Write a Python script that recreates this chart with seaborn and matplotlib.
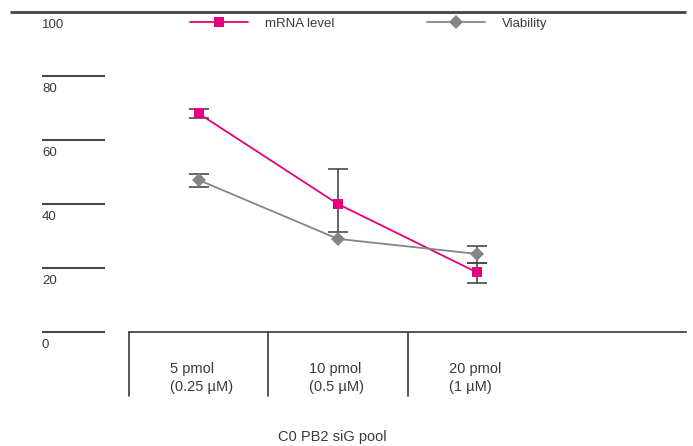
import numpy as np
import pandas as pd
import matplotlib
matplotlib.use("Agg")
import matplotlib.pyplot as plt
import seaborn as sns

# data
doses = ["5 pmol\n(0.25 µM)", "10 pmol\n(0.5 µM)", "20 pmol\n(1 µM)"]
mrna = [68.3, 40.0, 18.6]
mrna_err_low = [1.4, 8.7, 3.3]
mrna_err_high = [1.4, 10.8, 3.1]
viability = [47.5, 29.1, 24.4]
viability_err_low = [2.3, np.nan, 2.7]
viability_err_high = [2.0, np.nan, 2.6]
y_ticks = [0, 20, 40, 60, 80, 100]
x_title = "C0 PB2 siG pool"

MAGENTA = "#E6007E"
GREY = "#858585"
DARK = "#3a3a3a"

sns.set_theme(style="white")
plt.rcParams["font.family"] = ["Liberation Sans", "DejaVu Sans"]

W, H = 693, 446
fig = plt.figure(figsize=(W / 100, H / 100), dpi=100)
# plot area: x 129..686 px, y(0)=332 px, y(100)=12 px
ax = fig.add_axes([129 / W, (H - 332) / H, 557 / W, 320 / H])

pos = np.arange(len(doses))
df = pd.DataFrame({
    "pos": np.concatenate([pos, pos]),
    "value": mrna + viability,
    "series": ["mRNA level"] * 3 + ["Viability"] * 3,
})

# error bars first so markers sit on top
ax.errorbar(pos, mrna, yerr=[mrna_err_low, mrna_err_high], fmt="none",
            ecolor="#4a4a4a", elinewidth=1.2, capsize=7.5, capthick=1.2, zorder=2)
vmask = ~np.isnan(viability_err_low)
ax.errorbar(pos[vmask], np.array(viability)[vmask],
            yerr=[np.array(viability_err_low)[vmask], np.array(viability_err_high)[vmask]],
            fmt="none", ecolor="#4a4a4a", elinewidth=1.2, capsize=7.5,
            capthick=1.2, zorder=2)

sns.lineplot(data=df, x="pos", y="value", hue="series", style="series",
             palette={"mRNA level": MAGENTA, "Viability": GREY},
             markers={"mRNA level": "s", "Viability": "D"},
             dashes=False, markersize=7, markeredgewidth=0, linewidth=1.3,
             ax=ax, zorder=3)

ax.set_xlim(-0.5, 3.5)
ax.set_ylim(0, 100)
ax.set_xticks([])
ax.set_yticks([])
ax.set_xlabel("")
ax.set_ylabel("")
for s in ["top", "right", "left"]:
    ax.spines[s].set_visible(False)
ax.spines["bottom"].set_color(DARK)
ax.spines["bottom"].set_linewidth(1.2)

# y "ticks" as short rules with labels under them
ytr = ax.get_yaxis_transform()
x0 = (42 - 129) / 557
x1 = (105 - 129) / 557
for t in y_ticks:
    if t == 100:
        ax.plot([(10 - 129) / 557, 1.0], [t, t], transform=ytr, color="#444444",
                lw=2.0, clip_on=False, solid_capstyle="butt")
    else:
        ax.plot([x0, x1], [t, t], transform=ytr, color="#222222",
                lw=1.2, clip_on=False, solid_capstyle="butt")
    ax.text(x0, t - 2.3, str(t), transform=ytr, ha="left", va="top",
            fontsize=9.5, color=DARK)

# category separators and labels below the axis
for b in [-0.5, 0.5, 1.5]:
    ax.plot([b, b], [0, -20], color=DARK, lw=1.2, clip_on=False)
for p, lab in zip(pos, doses):
    ax.text(p - 0.205, -9.3, lab, ha="left", va="top", fontsize=10.5,
            color=DARK, linespacing=1.38, clip_on=False)

fig.text(332 / W, 1 - 437 / H, x_title, ha="center", va="center",
         fontsize=10.5, color=DARK)

ax.legend(loc="center left", bbox_to_anchor=(190 / W, 1 - 24 / H),
          bbox_transform=fig.transFigure, ncol=2, frameon=False,
          borderpad=0, borderaxespad=0, handlelength=4.4,
          handletextpad=1.3, columnspacing=7.0, fontsize=9.5,
          labelcolor=DARK)

fig.savefig("out.png", dpi=100)
